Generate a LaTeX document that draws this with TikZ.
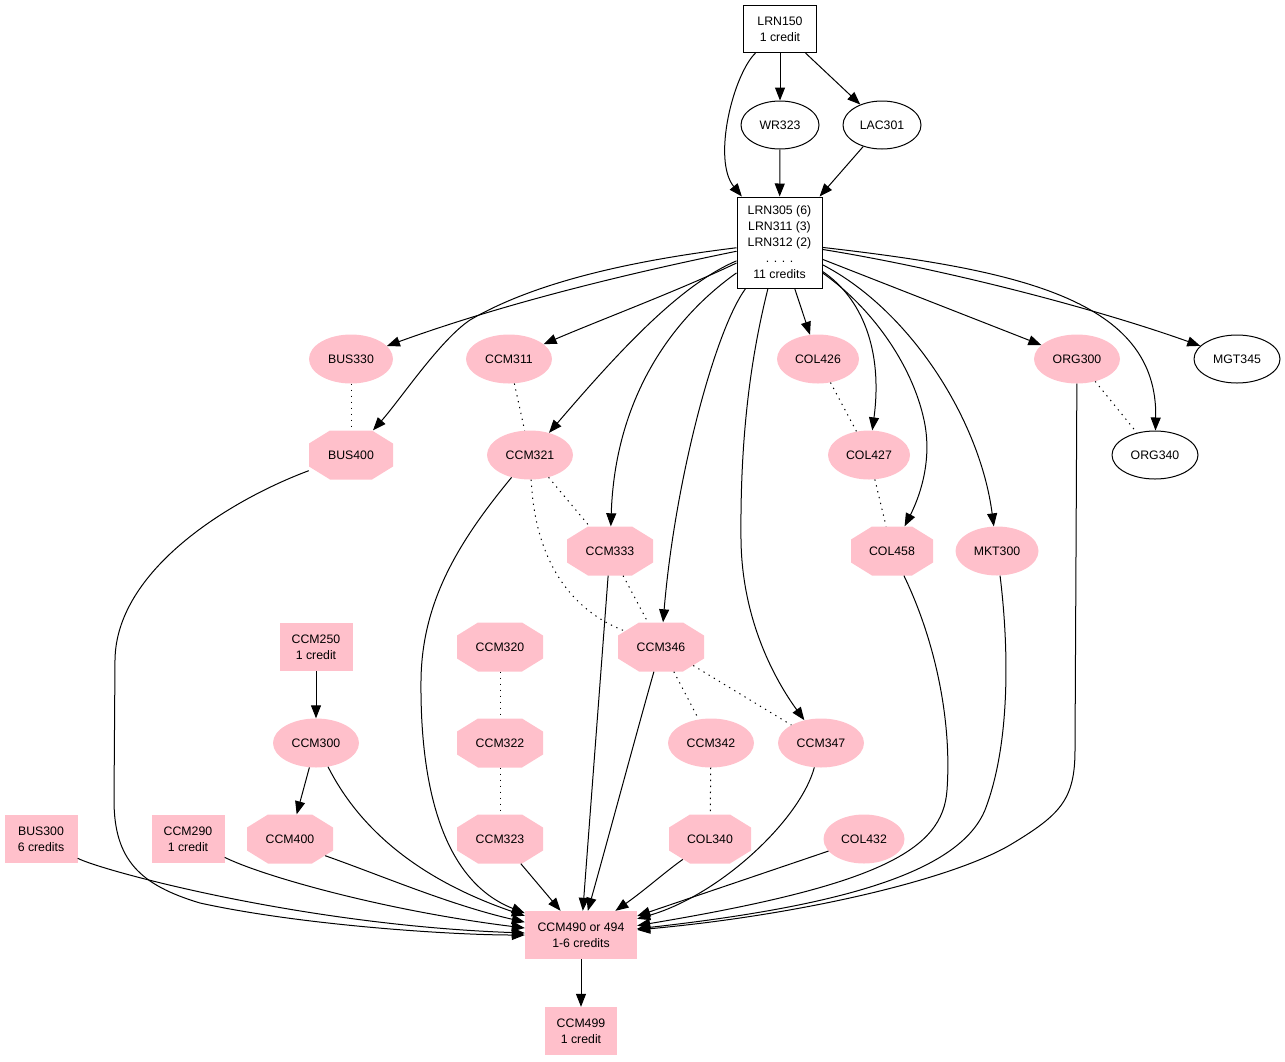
\documentclass[tikz,border=0pt]{standalone}
\usepackage{fontspec}
\setmainfont{Liberation Sans}
\usetikzlibrary{shapes.geometric,arrows.meta}
\definecolor{gvpink}{HTML}{FFC0CB}
\begin{document}
\begin{tikzpicture}[x=1pt,y=-1pt,
  every node/.style={font=\fontsize{12.3}{16}\selectfont, align=center, inner sep=0pt},
  wbox/.style={rectangle, draw=black, line width=1pt, fill=white, minimum width=73pt, minimum height=47pt},
  pbox/.style={rectangle, fill=gvpink, minimum width=73pt, minimum height=48pt},
  pell/.style={ellipse, fill=gvpink, minimum width=86pt, minimum height=49pt},
  well/.style={ellipse, draw=black, line width=1pt, fill=white, minimum width=86pt, minimum height=48pt},
  oct/.style={rectangle, minimum width=86pt, minimum height=49pt,
    path picture={\fill[gvpink]
      ([xshift=21pt]path picture bounding box.north west) --
      ([xshift=-21pt]path picture bounding box.north east) --
      ([yshift=-13pt]path picture bounding box.north east) --
      ([yshift=13pt]path picture bounding box.south east) --
      ([xshift=-21pt]path picture bounding box.south east) --
      ([xshift=21pt]path picture bounding box.south west) --
      ([yshift=13pt]path picture bounding box.south west) --
      ([yshift=-13pt]path picture bounding box.north west) -- cycle;}},
  prereq/.style={-{Triangle[length=13pt,width=10pt]}, line width=1pt},
  coreq/.style={line width=1pt, dash pattern=on 1.3pt off 4.7pt},
]
\useasboundingbox (0,0) rectangle (1285,1061);
% nodes
\node[wbox] (lrn150) at (780,29) {LRN150\\1 credit};
\node[well, minimum width=78pt] (wr323) at (780,125) {WR323};
\node[well, minimum width=78pt] (lac301) at (882,125) {LAC301};
\node[wbox, minimum width=85pt, minimum height=91pt] (lrn305) at (779.5,242.5) {LRN305 (6)\\LRN311 (3)\\LRN312 (2)\\. . . .\\11 credits};
\node[pell, minimum width=84pt] (bus330) at (351,359) {BUS330};
\node[pell] (ccm311) at (509,359) {CCM311};
\node[pell, minimum width=82pt] (col426) at (818,359) {COL426};
\node[pell] (org300) at (1077,359) {ORG300};
\node[well] (mgt345) at (1237,359) {MGT345};
\node[oct, minimum width=84pt] (bus400) at (351,455) {BUS400};
\node[pell] (ccm321) at (530,455) {CCM321};
\node[pell, minimum width=82pt] (col427) at (869,455) {COL427};
\node[well] (org340) at (1155,455) {ORG340};
\node[oct] (ccm333) at (610,551) {CCM333};
\node[oct, minimum width=82pt] (col458) at (892,551) {COL458};
\node[pell, minimum width=83pt] (mkt300) at (997,551) {MKT300};
\node[pbox] (ccm250) at (316,647) {CCM250\\1 credit};
\node[oct] (ccm320) at (500,647) {CCM320};
\node[oct] (ccm346) at (661,647) {CCM346};
\node[pell] (ccm300) at (316,743) {CCM300};
\node[oct] (ccm322) at (500,743) {CCM322};
\node[pell] (ccm342) at (711,743) {CCM342};
\node[pell] (ccm347) at (821,743) {CCM347};
\node[pbox] (bus300) at (41,839) {BUS300\\6 credits};
\node[pbox] (ccm290) at (188,839) {CCM290\\1 credit};
\node[oct] (ccm400) at (290,839) {CCM400};
\node[oct] (ccm323) at (500,839) {CCM323};
\node[oct, minimum width=82pt] (col340) at (710,839) {COL340};
\node[pell, minimum width=81pt] (col432) at (864,839) {COL432};
\node[pbox, minimum width=112pt] (ccm490) at (581,935) {CCM490 or 494\\1-6 credits};
\node[pbox, minimum width=72pt] (ccm499) at (581,1031) {CCM499\\1 credit};
% prerequisite edges
\draw[prereq] (lrn150) -- (wr323);
\draw[prereq] (lrn150) -- (lac301);
\draw[prereq] (lrn150) .. controls (733,75) and (712,160) .. (lrn305);
\draw[prereq] (wr323) -- (lrn305);
\draw[prereq] (lac301) -- (lrn305);
\draw[prereq] (lrn305) .. controls (620,275) and (500,305) .. (bus330);
\draw[prereq] (lrn305) .. controls (620,262) and (530,285) .. (470,320) .. controls (440,340) and (400,400) .. (bus400);
\draw[prereq] (lrn305) .. controls (680,290) and (600,320) .. (ccm311);
\draw[prereq] (lrn305) .. controls (680,285) and (620,350) .. (ccm321);
\draw[prereq] (lrn305) .. controls (670,320) and (615,400) .. (ccm333);
\draw[prereq] (lrn305) .. controls (715,330) and (675,480) .. (ccm346);
\draw[prereq] (lrn305) .. controls (750,360) and (740,440) .. (741,540) .. controls (742,620) and (775,680) .. (ccm347);
\draw[prereq] (lrn305) -- (col426);
\draw[prereq] (lrn305) .. controls (862,298) and (883,350) .. (col427);
\draw[prereq] (lrn305) .. controls (875,310) and (915,370) .. (925,425) .. controls (932,465) and (918,500) .. (col458);
\draw[prereq] (lrn305) .. controls (910,310) and (980,420) .. (mkt300);
\draw[prereq] (lrn305) -- (org300);
\draw[prereq] (lrn305) .. controls (1020,270) and (1158,300) .. (org340);
\draw[prereq] (lrn305) .. controls (950,270) and (1100,310) .. (mgt345);
\draw[prereq] (ccm250) -- (ccm300);
\draw[prereq] (ccm300) -- (ccm400);
\draw[prereq] (bus400) .. controls (230,500) and (116,570) .. (115,660) -- (114,800) .. controls (114,860) and (140,885) .. (200,903) .. controls (300,925) and (450,935) .. (ccm490);
\draw[prereq] (ccm321) .. controls (460,540) and (422,600) .. (421,680) .. controls (420,780) and (440,880) .. (ccm490);
\draw[prereq] (ccm333) -- (ccm490);
\draw[prereq] (ccm346) .. controls (640,720) and (605,850) .. (ccm490);
\draw[prereq] (ccm300) .. controls (360,830) and (420,880) .. (ccm490);
\draw[prereq] ([xshift=-8pt,yshift=8pt]ccm400.south east) .. controls (380,875) and (450,905) .. (ccm490);
\draw[prereq] (bus300) .. controls (100,870) and (300,925) .. (ccm490);
\draw[prereq] (ccm290) .. controls (260,875) and (380,910) .. (ccm490);
\draw[prereq] (ccm323) -- (ccm490);
\draw[prereq] ([xshift=14pt,yshift=4.3pt]col340.south west) .. controls (665,872) and (645,890) .. (ccm490);
\draw[prereq] (ccm347) .. controls (800,820) and (720,895) .. (ccm490);
\draw[prereq] (col432) -- (ccm490);
\draw[prereq] (col458) .. controls (935,640) and (952,720) .. (947,790) .. controls (943,850) and (880,885) .. (ccm490);
\draw[prereq] (mkt300) .. controls (1008,640) and (1012,740) .. (985,810) .. controls (960,870) and (850,905) .. (ccm490);
\draw[prereq] (org300) -- (1075,750) .. controls (1075,800) and (1060,815) .. (1010,845) .. controls (950,880) and (800,915) .. (ccm490);
\draw[prereq] (ccm490) -- (ccm499);
% corequisite (dotted) edges
\draw[coreq] (bus330) -- (bus400);
\draw[coreq] (ccm311) -- (ccm321);
\draw[coreq] (ccm321) -- (ccm333);
\draw[coreq] (ccm321) .. controls (535,560) and (570,610) .. ([xshift=7pt,yshift=-8.7pt]ccm346.north west);
\draw[coreq] (ccm333) -- (ccm346);
\draw[coreq] (ccm346) -- (ccm342);
\draw[coreq] ([xshift=-11pt,yshift=6.2pt]ccm346.south east) -- (ccm347);
\draw[coreq] (ccm320) -- (ccm322);
\draw[coreq] (ccm322) -- (ccm323);
\draw[coreq] (ccm342) -- (col340);
\draw[coreq] (col426) -- (col427);
\draw[coreq] (col427) -- (col458);
\draw[coreq] (org300) -- (org340);
\end{tikzpicture}
\end{document}
